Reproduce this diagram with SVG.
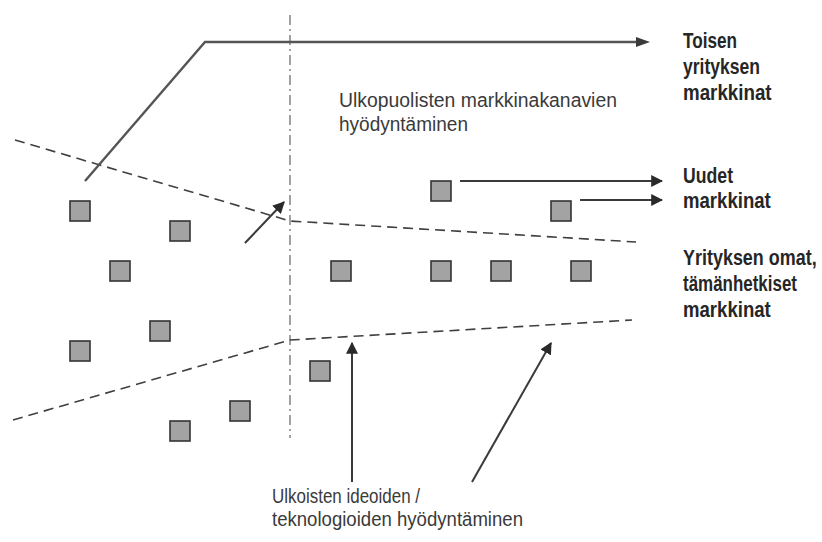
<svg xmlns="http://www.w3.org/2000/svg" width="822" height="542" viewBox="0 0 822 542">
  <style>
    .bg { fill: #ffffff; }
    .sq { fill: #a3a3a3; stroke: #333333; stroke-width: 1.6; }
    .axis { fill: none; stroke: #8a8a8a; stroke-width: 1.6; stroke-dasharray: 10 4 2 4; }
    .bound { fill: none; stroke: #3f3f3f; stroke-width: 1.6; stroke-dasharray: 10 6; }
    .flow { fill: none; stroke: #3a3a3a; stroke-width: 2; marker-end: url(#head); }
    .flowplain { fill: none; stroke: #555555; stroke-width: 2.4; }
    .lbl { font-family: "Liberation Sans", Arial, sans-serif; font-size: 20px; fill: #3a3a3a; }
    .lblb { font-family: "Liberation Sans", Arial, sans-serif; font-size: 22px; font-weight: bold; fill: #262626; }
  </style>
  <defs>
    <marker id="head" viewBox="0 0 10 10" refX="9" refY="5" markerWidth="6" markerHeight="6" orient="auto" markerUnits="strokeWidth">
      <path d="M0,0 L10,5 L0,10 Z" fill="#2a2a2a"/>
    </marker>
  </defs>

  <rect class="bg" x="0" y="0" width="822" height="542"/>

  <!-- boundaries of the market areas -->
  <g id="boundaries">
    <line class="axis" x1="290" y1="15" x2="290" y2="438"/>
    <polyline class="bound" points="15,140 290,221 636,242"/>
    <polyline class="bound" points="13,420 290,340 632,320"/>
  </g>

  <!-- connectors -->
  <g id="connectors">
    <polyline class="flowplain" points="85,181 205,42 640,42"/>
    <path d="M636,37 L650,42 L636,47 Z" fill="#3a3a3a"/>
    <line class="flow" x1="460" y1="181" x2="662" y2="181"/>
    <line class="flow" x1="580" y1="200" x2="662" y2="200"/>
    <line class="flow" x1="245" y1="243" x2="284" y2="202"/>
    <line class="flow" x1="352" y1="482" x2="352" y2="343"/>
    <line class="flow" x1="472" y1="482" x2="551" y2="343"/>
  </g>

  <!-- projects -->
  <g id="projects">
    <rect class="sq" x="70" y="201" width="20" height="20"/>
    <rect class="sq" x="170" y="221" width="20" height="20"/>
    <rect class="sq" x="110" y="261" width="20" height="20"/>
    <rect class="sq" x="150" y="321" width="20" height="20"/>
    <rect class="sq" x="70" y="341" width="20" height="20"/>
    <rect class="sq" x="230" y="401" width="20" height="20"/>
    <rect class="sq" x="170" y="421" width="20" height="20"/>
    <rect class="sq" x="310" y="361" width="20" height="20"/>
    <rect class="sq" x="331" y="261" width="20" height="20"/>
    <rect class="sq" x="431" y="261" width="20" height="20"/>
    <rect class="sq" x="491" y="261" width="20" height="20"/>
    <rect class="sq" x="571" y="261" width="20" height="20"/>
    <rect class="sq" x="431" y="181" width="20" height="20"/>
    <rect class="sq" x="551" y="201" width="20" height="20"/>
  </g>

  <g id="label-channels">
    <text class="lbl" x="339" y="107" textLength="278" lengthAdjust="spacingAndGlyphs">Ulkopuolisten markkinakanavien</text>
    <text class="lbl" x="339" y="131" textLength="129" lengthAdjust="spacingAndGlyphs">hyödyntäminen</text>
  </g>

  <!-- condensed right-hand labels: horizontal scale 0.82 -->
  <g id="label-other" transform="translate(683,0) scale(0.82,1)">
    <text class="lblb" x="0" y="48" textLength="66" lengthAdjust="spacingAndGlyphs">Toisen</text>
    <text class="lblb" x="0" y="74" textLength="94" lengthAdjust="spacingAndGlyphs">yrityksen</text>
    <text class="lblb" x="0" y="100" textLength="108" lengthAdjust="spacingAndGlyphs">markkinat</text>
  </g>

  <g id="label-new" transform="translate(683,0) scale(0.82,1)">
    <text class="lblb" x="0" y="183" textLength="61" lengthAdjust="spacingAndGlyphs">Uudet</text>
    <text class="lblb" x="0" y="208" textLength="107" lengthAdjust="spacingAndGlyphs">markkinat</text>
  </g>

  <g id="label-own" transform="translate(683,0) scale(0.82,1)">
    <text class="lblb" x="0" y="265" textLength="163" lengthAdjust="spacingAndGlyphs">Yrityksen omat,</text>
    <text class="lblb" x="0" y="291" textLength="139" lengthAdjust="spacingAndGlyphs">tämänhetkiset</text>
    <text class="lblb" x="0" y="317" textLength="107" lengthAdjust="spacingAndGlyphs">markkinat</text>
  </g>

  <g id="label-ideas">
    <text class="lbl" x="272" y="503" textLength="148" lengthAdjust="spacingAndGlyphs">Ulkoisten ideoiden /</text>
    <text class="lbl" x="272" y="526" textLength="251" lengthAdjust="spacingAndGlyphs">teknologioiden hyödyntäminen</text>
  </g>
</svg>
